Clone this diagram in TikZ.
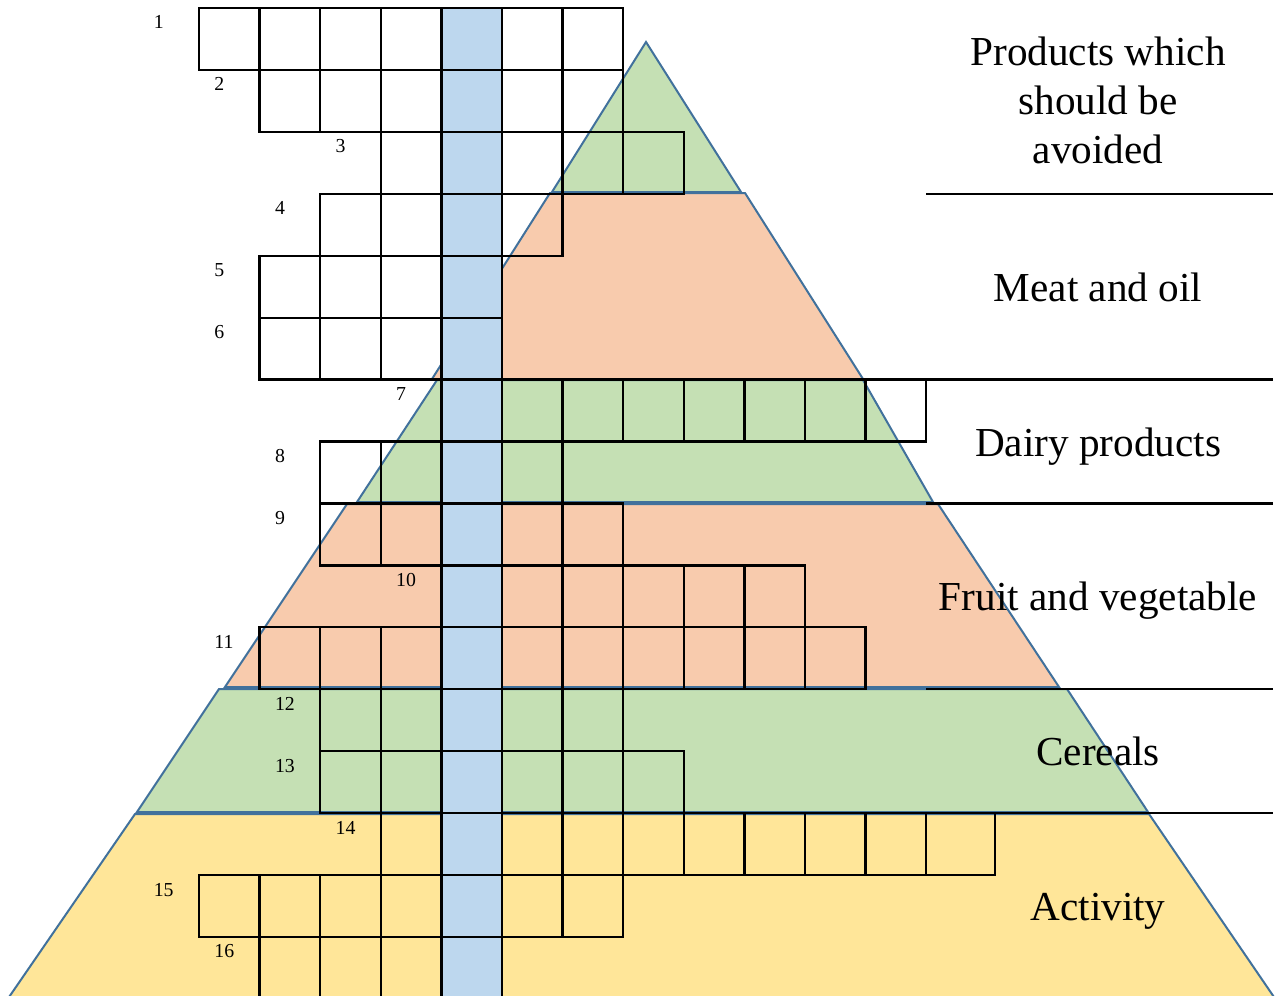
\documentclass[tikz,border=0pt]{standalone}
\usepackage{fontspec}
\setmainfont{Liberation Serif}
\definecolor{bgreen}{HTML}{C5E0B4}
\definecolor{bpeach}{HTML}{F8CBAD}
\definecolor{byellow}{HTML}{FFE699}
\definecolor{bblue}{HTML}{BDD7EE}
\definecolor{bandline}{HTML}{41719C}
\newcommand\gridrow[3]{\foreach \cc in {#2,...,#3}{\draw[cell] ({199+60.6*\cc},{8+61.93*#1}) rectangle ++(60.6,61.93);}}
\newcommand\clue[3]{\node[num] (n#1) at ({199+60.6*(#3-1)+15},{8+61.93*#2+21}) {#1};}
\begin{document}
\begin{tikzpicture}[x=0.5pt,y=-0.5pt,
  band/.style={draw=bandline,line width=1pt,line join=miter},
  cell/.style={draw=black,line width=1.15pt},
  rule/.style={draw=black,line width=1.15pt},
  num/.style={font=\fontsize{9.9}{11}\selectfont,anchor=base west,inner sep=0pt},
  cat/.style={font=\fontsize{20.6}{24.5}\selectfont,align=center,inner sep=0pt}]
\useasboundingbox (0,0) rectangle (1277,995);
\clip (0,0) rectangle (1277,995);
% pyramid bands
\filldraw[band,fill=bgreen] (646,42) -- (741,192) -- (552,192) -- cycle;
\filldraw[band,fill=bpeach] (550,193) -- (745,193) -- (863,379) -- (432,379) -- cycle;
\filldraw[band,fill=bgreen] (437,380) -- (863,380) -- (933,502) -- (357,502) -- cycle;
\filldraw[band,fill=bpeach] (347,504) -- (938,504) -- (1059,687) -- (225,687) -- cycle;
\filldraw[band,fill=bgreen] (219,689) -- (1067,689) -- (1148,812) -- (137,812) -- cycle;
\filldraw[band,fill=byellow] (135,814) -- (1149,814) -- (1276,1000) -- (7,1000) -- cycle;
% key column
\fill[bblue] ({199+60.6*4},8) rectangle ({199+60.6*5},1000);
% crossword grid
\gridrow{0}{0}{6}
\gridrow{1}{1}{6}
\gridrow{2}{3}{7}
\gridrow{3}{2}{5}
\gridrow{4}{1}{4}
\gridrow{5}{1}{4}
\gridrow{6}{4}{11}
\gridrow{7}{2}{5}
\gridrow{8}{2}{6}
\gridrow{9}{4}{9}
\gridrow{10}{1}{10}
\gridrow{11}{2}{6}
\gridrow{12}{2}{7}
\gridrow{13}{3}{11}
\draw[cell] ({199+60.6*12},{8+61.93*13}) rectangle (995,{8+61.93*14});
\gridrow{14}{0}{6}
\gridrow{15}{1}{4}
% clue numbers
\clue{1}{0}{0}
\clue{2}{1}{1}
\clue{3}{2}{3}
\clue{4}{3}{2}
\clue{5}{4}{1}
\clue{6}{5}{1}
\clue{7}{6}{4}
\clue{8}{7}{2}
\clue{9}{8}{2}
\clue{10}{9}{4}
\clue{11}{10}{1}
\clue{12}{11}{2}
\clue{13}{12}{2}
\clue{14}{13}{3}
\clue{15}{14}{0}
\clue{16}{15}{1}
% right-hand rules and category names
\foreach \yy in {193.8,379.6,503.4,689.2,813.1} \draw[rule] (926,\yy) -- (1273,\yy);
\node[cat,anchor=north] (c1) at (1098,37) {Products which\\should be\\avoided};
\node[cat,anchor=base] (c2) at (1098,301) {Meat and oil};
\node[cat,anchor=base] (c3) at (1098,456) {Dairy products};
\node[cat,anchor=base] (c4) at (1098,610) {Fruit and vegetable};
\node[cat,anchor=base] (c5) at (1098,765) {Cereals};
\node[cat,anchor=base] (c6) at (1098,920) {Activity};
\end{tikzpicture}
\end{document}
